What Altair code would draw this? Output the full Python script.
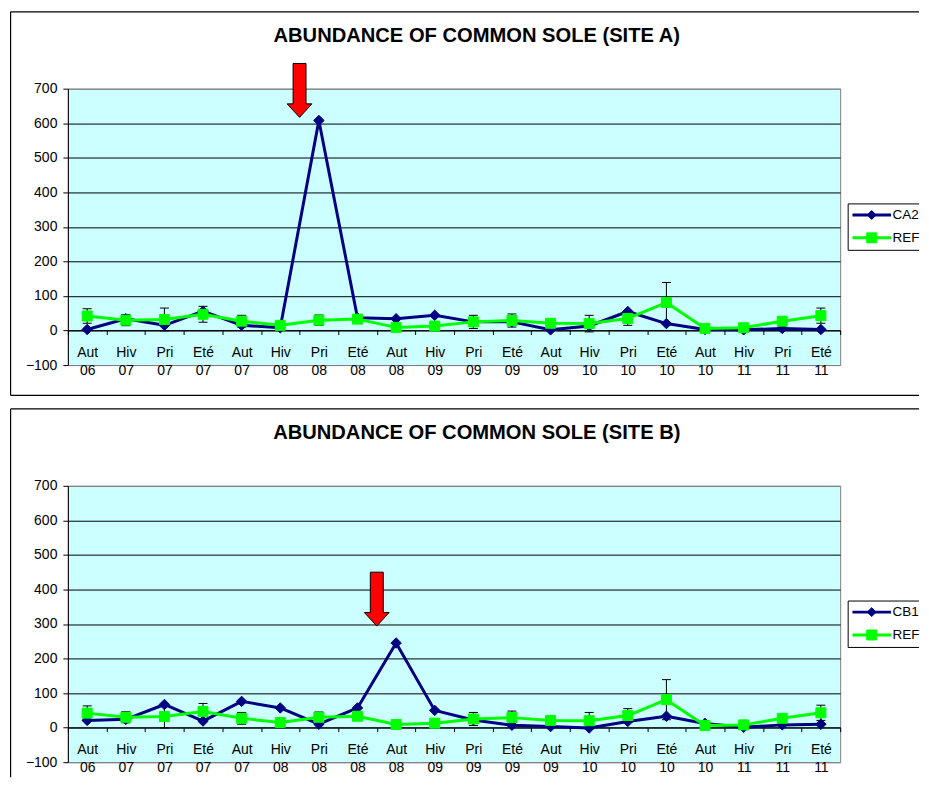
import altair as alt
import pandas as pd

# ---------------- data ----------------
categories = ["Aut 06", "Hiv 07", "Pri 07", "Eté 07", "Aut 07", "Hiv 08", "Pri 08",
              "Eté 08", "Aut 08", "Hiv 09", "Pri 09", "Eté 09", "Aut 09", "Hiv 10",
              "Pri 10", "Eté 10", "Aut 10", "Hiv 11", "Pri 11", "Eté 11"]

site_a_name = "CA2"
site_a_values = [3, 34, 15, 56, 15, 8, 608, 37, 34, 44, 25, 25, 2, 13, 55, 20, 3, 2, 6, 3]

site_b_name = "CB1"
site_b_values = [21, 24, 67, 19, 76, 57, 10, 57, 245, 50, 22, 7, 3, -1, 18, 33, 12, 1, 8, 10]

ref_name = "REF"
ref_values = [42, 30, 32, 47, 27, 15, 30, 33, 9, 13, 25, 29, 21, 20, 35, 81, 6, 8, 27, 43]
ref_errors = [21, 16, 33, 23, 17, 5, 15, 5, 3, 4, 19, 19, 5, 24, 20, 58, 4, 4, 8, 22]

titles = ["ABUNDANCE OF COMMON SOLE (SITE A)", "ABUNDANCE OF COMMON SOLE (SITE B)"]

# arrows: placed at the start of the given category band, centred on the given value
arrow_a = {"cat": ["Pri 08"], "v": [695]}
arrow_b = {"cat": ["Aut 08"], "v": [372]}

y_ticks = [-100, 0, 100, 200, 300, 400, 500, 600, 700]

# ---------------- style ----------------
FONT = "Arial, Liberation Sans, sans-serif"
NAVY = "#000080"
GREEN = "#00FF00"
W, H = 774, 277
RIGHT = 853          # where the (cropped) frames stop, relative to plot left
LX = 782             # legend box left, relative to plot left
ARROW = "M-0.24,-1L0.24,-1L0.24,0.5L0.46,0.5L0,1L-0.46,0.5L-0.24,0.5Z"

yscale = alt.Scale(domain=[-100, 700], nice=False, zero=False)
xscale = alt.Scale(domain=categories, paddingInner=0, paddingOuter=0)

yaxis = alt.Axis(values=y_ticks, tickCount=len(y_ticks), grid=True,
                 gridColor={"condition": {"test": "datum.value >= 700 || datum.value <= -100",
                                          "value": "#808080"}, "value": "black"},
                 gridWidth=1, domainColor="black", domainWidth=1, tickColor="black",
                 tickSize=5, labelFont=FONT, labelFontSize=14, labelColor="black",
                 labelPadding=6, labelOverlap=False, labelBound=False, title=None)

xaxis = alt.Axis(labelExpr="split(datum.label, ' ')", labelAngle=0, labelFont=FONT,
                 labelFontSize=14, labelColor="black", labelLineHeight=18,
                 labelPadding=11, labelOverlap=False, tickBand="extent", tickSize=4,
                 tickColor="black", domainColor="black", domainWidth=1,
                 offset=-H / 8, grid=False, title=None)


def one(d):
    return pd.DataFrame(d)


def panel(title, site_name, site_vals, arrow, frame_bottom, frame_closed):
    df = pd.DataFrame({
        "cat": categories,
        "site": site_vals,
        "ref": ref_values,
        "lo": [r - e for r, e in zip(ref_values, ref_errors)],
        "hi": [r + e for r, e in zip(ref_values, ref_errors)],
    })
    x = alt.X("cat:N", sort=categories, scale=xscale, axis=xaxis, title=None)
    base = alt.Chart(df).encode(x=x)

    err = base.mark_rule(color="black", strokeWidth=1).encode(
        y=alt.Y("lo:Q", scale=yscale, axis=yaxis, title=None), y2="hi:Q")
    cap_hi = base.mark_tick(color="black", size=9, thickness=1, opacity=1).encode(
        y=alt.Y("hi:Q", scale=yscale))
    cap_lo = base.mark_tick(color="black", size=9, thickness=1, opacity=1).encode(
        y=alt.Y("lo:Q", scale=yscale))

    site_line = base.mark_line(color=NAVY, strokeWidth=3, strokeJoin="round").encode(
        y=alt.Y("site:Q", scale=yscale))
    site_pts = base.mark_point(shape="diamond", filled=True, fill=NAVY, stroke=NAVY,
                               strokeWidth=1, size=110, opacity=1).encode(
        y=alt.Y("site:Q", scale=yscale))
    ref_line = base.mark_line(color=GREEN, strokeWidth=3, strokeJoin="round").encode(
        y=alt.Y("ref:Q", scale=yscale))
    ref_pts = base.mark_point(shape="square", filled=True, fill=GREEN, stroke=GREEN,
                              strokeWidth=1, size=100, opacity=1).encode(
        y=alt.Y("ref:Q", scale=yscale))

    arrow_mark = alt.Chart(pd.DataFrame(arrow)).mark_point(
        shape=ARROW, size=2916, filled=True, fill="#FF0000", stroke="black",
        strokeWidth=1, opacity=1).encode(
        x=alt.X("cat:N", sort=categories, scale=xscale, bandPosition=0, title=None),
        y=alt.Y("v:Q", scale=yscale))

    title_mark = alt.Chart(one({"t": [title]})).mark_text(
        align="center", baseline="alphabetic", font=FONT, fontSize=20.2,
        fontWeight="bold", color="black").encode(
        x=alt.value(409.8), y=alt.value(-46.5), text="t:N")

    # outer chart frame (cropped at the right of the picture) and legend box
    fr = alt.Chart(one({"k": [0]}))
    frame = [
        fr.mark_rule(color="black", strokeWidth=1.2).encode(
            x=alt.value(-57.4), x2=alt.value(RIGHT), y=alt.value(-77)),
        fr.mark_rule(color="black", strokeWidth=1.2).encode(
            x=alt.value(-57.4), y=alt.value(-77), y2=alt.value(frame_bottom)),
        fr.mark_rule(color="black", strokeWidth=1).encode(
            x=alt.value(LX), x2=alt.value(RIGHT), y=alt.value(115.5)),
        fr.mark_rule(color="black", strokeWidth=1).encode(
            x=alt.value(LX), x2=alt.value(RIGHT), y=alt.value(162)),
        fr.mark_rule(color="black", strokeWidth=1).encode(
            x=alt.value(LX), y=alt.value(115.5), y2=alt.value(162)),
    ]
    if frame_closed:
        frame.append(fr.mark_rule(color="black", strokeWidth=1.2).encode(
            x=alt.value(-57.4), x2=alt.value(RIGHT), y=alt.value(frame_bottom)))

    legend = []
    for name, colr, shp, sz, yy in [(site_name, NAVY, "diamond", 80, 126.6),
                                     (ref_name, GREEN, "square", 100, 149.5)]:
        ld = alt.Chart(one({"name": [name]}))
        legend += [
            ld.mark_rule(color=colr, strokeWidth=3).encode(
                x=alt.value(LX + 4.3), x2=alt.value(LX + 43), y=alt.value(yy)),
            ld.mark_point(shape=shp, filled=True, fill=colr, stroke=colr, strokeWidth=1,
                          size=sz, opacity=1).encode(x=alt.value(LX + 23.6), y=alt.value(yy)),
            ld.mark_text(align="left", baseline="middle", font=FONT, fontSize=13.5,
                         color="black").encode(x=alt.value(LX + 44.5), y=alt.value(yy),
                                               text="name:N"),
        ]

    return alt.layer(err, cap_hi, cap_lo, site_line, site_pts, ref_line, ref_pts,
                     arrow_mark, title_mark, *frame, *legend).properties(
        width=W, height=H)


chart = alt.vconcat(
    panel(titles[0], site_a_name, site_a_values, arrow_a, 307.3, True),
    panel(titles[1], site_b_name, site_b_values, arrow_b, 292, False),
    spacing=10,
).properties(
    padding={"left": 1, "top": 1, "right": 0, "bottom": 0},
    background="white",
).configure_view(fill="#CCFFFF", stroke="#808080", strokeWidth=1)

chart.save("out.html", embed_options={"renderer": "svg", "actions": False})
